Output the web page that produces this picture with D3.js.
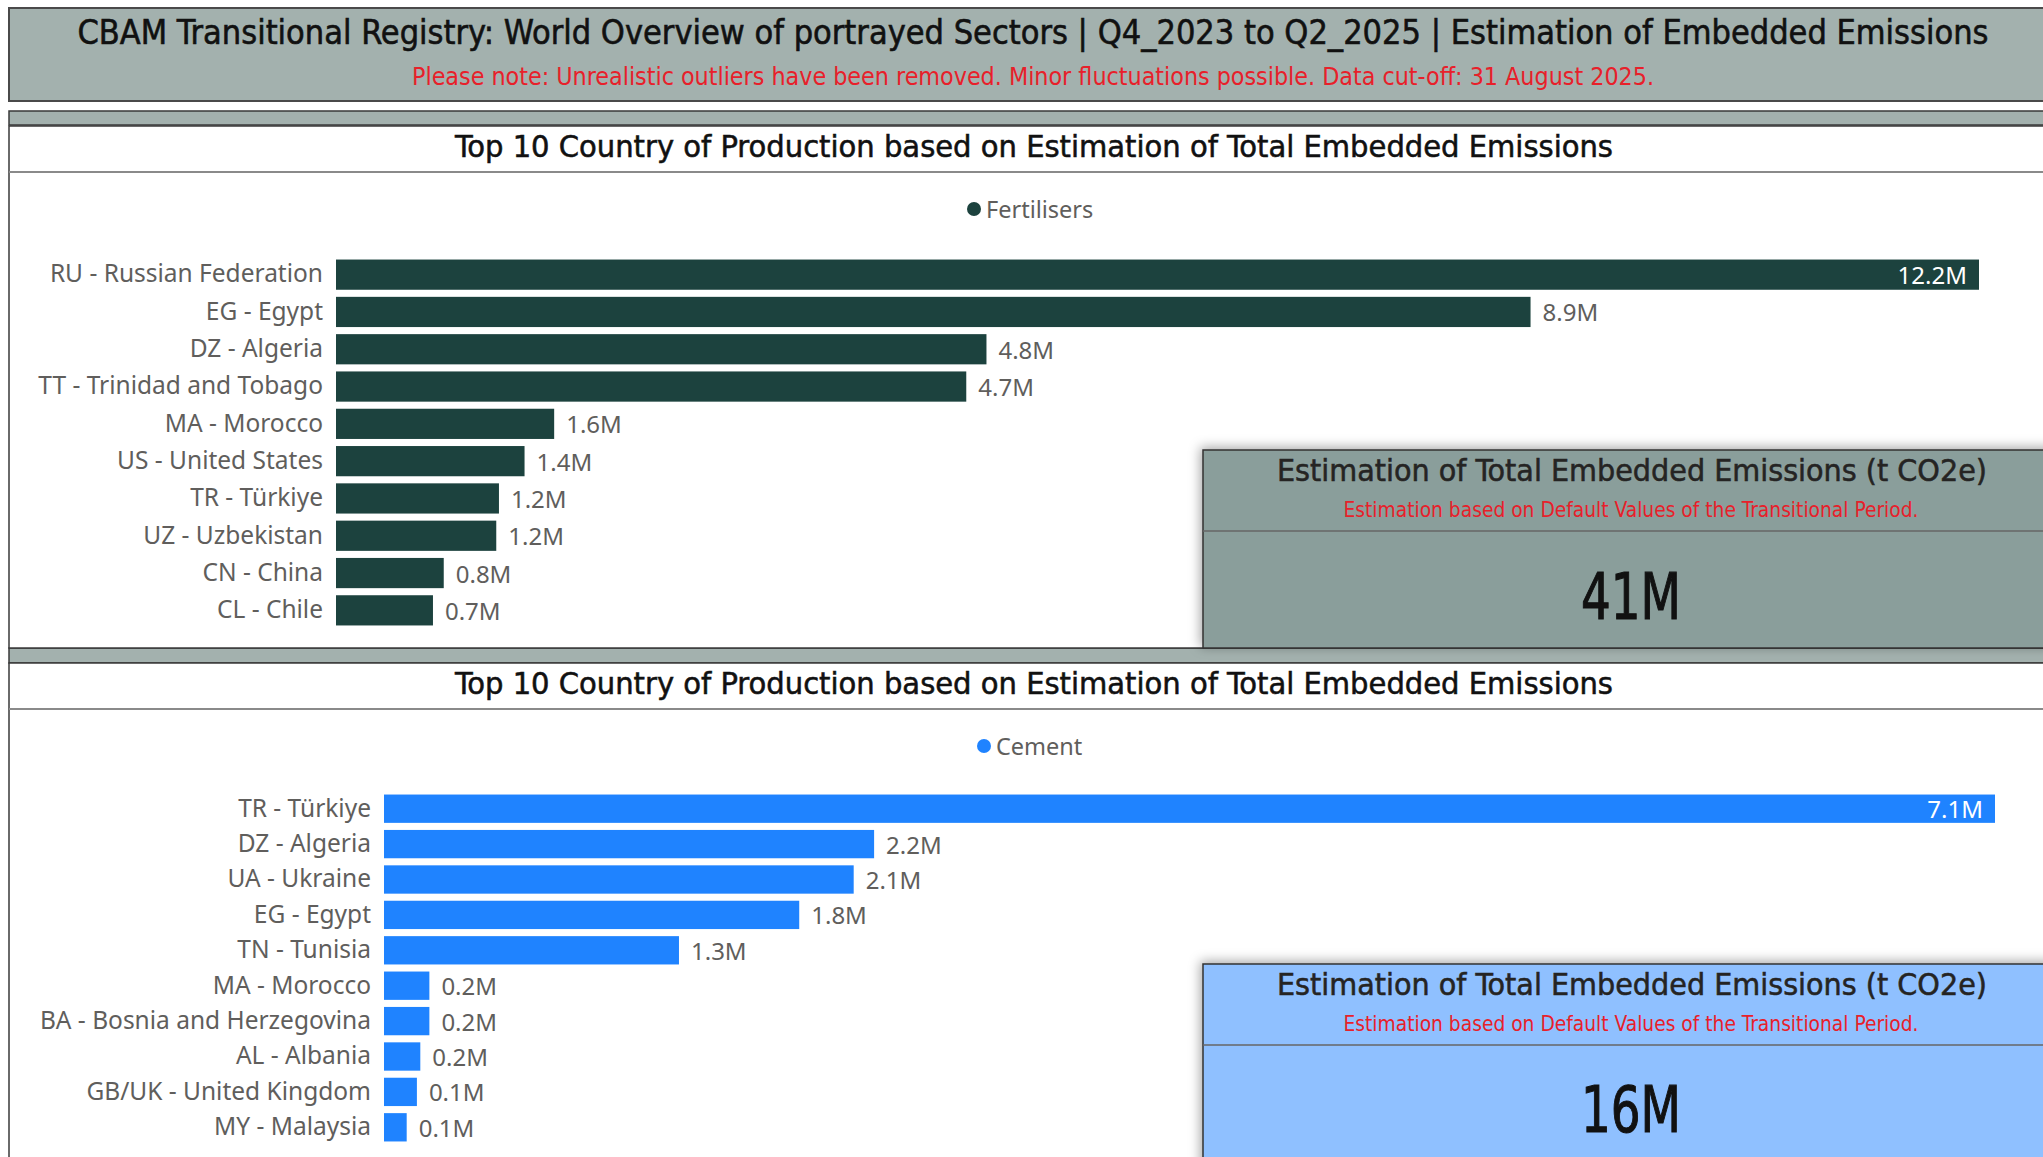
<!DOCTYPE html>
<html>
<head>
<meta charset="utf-8">
<script src="https://cdn.jsdelivr.net/npm/d3@7/dist/d3.min.js"></script>
<style>
  body { margin: 0; background: #fff; }
  svg { display: block; }
</style>
</head>
<body>
<script>
var width = 2043,
    height = 1157;

// Fertilisers (million t CO2e)
var fertCountries = ['RU - Russian Federation', 'EG - Egypt', 'DZ - Algeria', 'TT - Trinidad and Tobago',
    'MA - Morocco', 'US - United States', 'TR - Türkiye', 'UZ - Uzbekistan', 'CN - China', 'CL - Chile'];
var fertValues = [12.2, 8.87, 4.83, 4.68, 1.62, 1.40, 1.21, 1.19, 0.80, 0.72];
var fertTotal = 41;

// Cement (million t CO2e)
var cementCountries = ['TR - Türkiye', 'DZ - Algeria', 'UA - Ukraine', 'EG - Egypt', 'TN - Tunisia',
    'MA - Morocco', 'BA - Bosnia and Herzegovina', 'AL - Albania', 'GB/UK - United Kingdom', 'MY - Malaysia'];
var cementValues = [7.1, 2.16, 2.07, 1.83, 1.30, 0.20, 0.20, 0.16, 0.145, 0.10];
var cementTotal = 16;

var dinFont = '"DejaVu Sans Condensed", "Liberation Sans Narrow", sans-serif';
var uiFont = '"Segoe UI", "Noto Sans", "Open Sans", sans-serif';

var svg = d3.select('body').append('svg').attr('width', width).attr('height', height);

var defs = svg.append('defs');
var shadow = defs.append('filter').attr('id', 'shadow')
    .attr('x', '-5%').attr('y', '-10%').attr('width', '110%').attr('height', '120%');
shadow.append('feDropShadow').attr('dx', -2).attr('dy', -2).attr('stdDeviation', 6)
    .attr('flood-color', '#000').attr('flood-opacity', 0.35);

// heavier DIN-like text: condensed glyphs plus a thin stroke
function dinText(sel, size, color, len) {
    return sel.attr('text-anchor', 'middle').attr('dominant-baseline', 'central')
        .attr('font-family', dinFont).attr('font-size', size)
        .attr('fill', color).attr('stroke', color).attr('stroke-width', size / 60)
        .attr('textLength', len).attr('lengthAdjust', 'spacingAndGlyphs');
}

// page header
svg.append('rect').attr('x', 9).attr('y', 8).attr('width', width).attr('height', 93)
    .attr('fill', '#a3b1ae').attr('stroke', '#4a4a4a').attr('stroke-width', 2);
dinText(svg.append('text').attr('x', 1033).attr('y', 32), 34, '#111', 1911)
    .text('CBAM Transitional Registry: World Overview of portrayed Sectors | Q4_2023 to Q2_2025 | Estimation of Embedded Emissions');
dinText(svg.append('text').attr('x', 1033).attr('y', 76), 25, '#e8202a', 1242)
    .attr('stroke-width', 0)
    .text('Please note: Unrealistic outliers have been removed. Minor fluctuations possible. Data cut-off: 31 August 2025.');

// grey separator bands
svg.append('rect').attr('x', 9).attr('y', 111).attr('width', width).attr('height', 14)
    .attr('fill', '#a3b1ae').attr('stroke', '#3a3a3a').attr('stroke-width', 1.5);
svg.append('rect').attr('x', 9).attr('y', 648).attr('width', width).attr('height', 15)
    .attr('fill', '#a3b1ae').attr('stroke', '#3a3a3a').attr('stroke-width', 1.5);

function panel(opt) {
    var g = svg.append('g');
    g.append('rect').attr('x', 9).attr('y', opt.top).attr('width', width).attr('height', opt.bottom - opt.top)
        .attr('fill', '#fff').attr('stroke', '#3a3a3a').attr('stroke-width', 1.5);
    dinText(g.append('text').attr('x', 1034).attr('y', opt.top + 20), 31, '#111', 1158)
        .text('Top 10 Country of Production based on Estimation of Total Embedded Emissions');
    g.append('line').attr('x1', 9).attr('x2', width).attr('y1', opt.top + 46).attr('y2', opt.top + 46)
        .attr('stroke', '#8a8a8a').attr('stroke-width', 2);

    // legend
    g.append('circle').attr('cx', opt.legendX).attr('cy', opt.legendY).attr('r', 7).attr('fill', opt.color);
    g.append('text').attr('x', opt.legendX + 12).attr('y', opt.legendY)
        .attr('dominant-baseline', 'central')
        .attr('font-family', uiFont).attr('font-size', 23.5).attr('fill', '#605e5c')
        .text(opt.legend);

    var x = d3.scaleLinear().domain([0, d3.max(opt.values)]).range([opt.x0, opt.x1]);
    var y = d3.scaleBand().domain(opt.countries).range(opt.yRange)
        .paddingInner(opt.pad).paddingOuter(opt.pad / 2);

    var axis = g.append('g').attr('transform', 'translate(' + (opt.x0 - 13) + ',0)')
        .call(d3.axisLeft(y).tickSize(0).tickPadding(0));
    axis.select('.domain').remove();
    axis.selectAll('text').attr('font-family', uiFont).attr('font-size', 24.5).attr('fill', '#605e5c');

    var rows = opt.countries.map(function (c, i) {
        return { name: c, value: opt.values[i] };
    });

    g.selectAll('rect.bar').data(rows).enter().append('rect')
        .attr('class', 'bar')
        .attr('x', x(0))
        .attr('y', function (d) { return y(d.name); })
        .attr('width', function (d) { return x(d.value) - x(0); })
        .attr('height', y.bandwidth())
        .attr('fill', opt.color);

    var fmt = d3.format('.1f');
    g.selectAll('text.lbl').data(rows).enter().append('text')
        .attr('class', 'lbl')
        .attr('dominant-baseline', 'central')
        .attr('font-family', uiFont).attr('font-size', 24)
        .attr('y', function (d) { return y(d.name) + y.bandwidth() / 2; })
        .each(function (d) {
            var inside = x(d.value) + 70 > width;
            d3.select(this)
                .attr('x', inside ? x(d.value) - 12 : x(d.value) + 12)
                .attr('text-anchor', inside ? 'end' : 'start')
                .attr('fill', inside ? '#fff' : '#605e5c')
                .text(fmt(d.value) + 'M');
        });

    // KPI card
    var card = svg.append('g').attr('transform', 'translate(1203,' + opt.cardTop + ')');
    card.append('rect').attr('x', 0).attr('y', 0).attr('width', width).attr('height', opt.cardH)
        .attr('fill', opt.cardColor).attr('stroke', '#333').attr('stroke-width', 1.5)
        .attr('filter', 'url(#shadow)');
    dinText(card.append('text').attr('x', 429).attr('y', 20), 31, '#252423', 710)
        .text('Estimation of Total Embedded Emissions (t CO2e)');
    dinText(card.append('text').attr('x', 428).attr('y', 60), 21, '#e8202a', 575)
        .attr('stroke-width', 0)
        .text('Estimation based on Default Values of the Transitional Period.');
    card.append('line').attr('x1', 0).attr('x2', width).attr('y1', 81).attr('y2', 81)
        .attr('stroke', '#666').attr('stroke-width', 1.5);
    dinText(card.append('text').attr('x', 428).attr('y', opt.valueY), 64, '#111', 100)
        .text(opt.total + 'M');
}

panel({
    top: 126, bottom: 648, color: '#1c423e', legend: 'Fertilisers', legendX: 974, legendY: 209,
    countries: fertCountries, values: fertValues, x0: 336, x1: 1979, yRange: [256, 629], pad: 0.19,
    cardTop: 450, cardH: 198, cardColor: '#8a9e9b', total: fertTotal, valueY: 147
});
panel({
    top: 663, bottom: 1200, color: '#1f83ff', legend: 'Cement', legendX: 984, legendY: 746,
    countries: cementCountries, values: cementValues, x0: 384, x1: 1995, yRange: [791, 1145], pad: 0.2,
    cardTop: 964, cardH: 250, cardColor: '#8fc0ff', total: cementTotal, valueY: 146
});
</script>
</body>
</html>
